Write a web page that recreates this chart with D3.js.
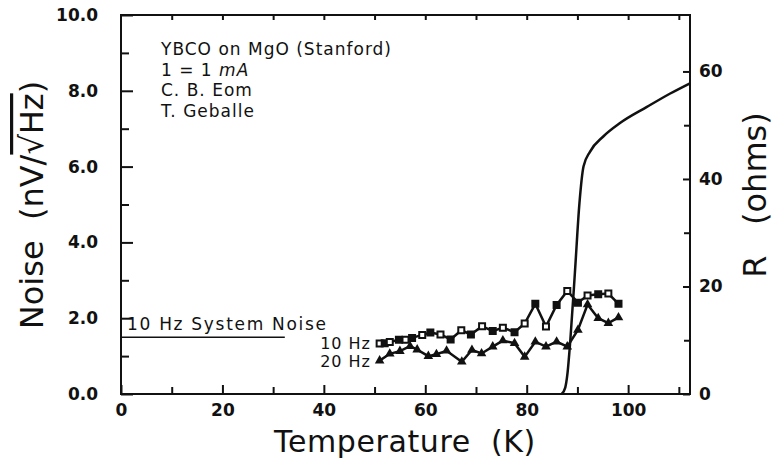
<!DOCTYPE html>
<html>
  <head>
    <meta charset="utf-8">
    <script src="https://cdn.jsdelivr.net/npm/d3@7"></script>
    <style>
      body{
        margin: 0;
        padding: 0;
        background-color: white;
      }
      .tick text{
        font-family: "DejaVu Sans", sans-serif;
        font-weight: bold;
        font-size: 17px;
        fill: #111;
      }
      .tick line{
        stroke: #111;
        stroke-width: 2px;
      }
      .note{
        font-family: "DejaVu Sans", sans-serif;
        font-size: 17px;
        letter-spacing: 1px;
        fill: #111;
      }
      .title{
        font-family: "DejaVu Sans", sans-serif;
        font-size: 32px;
        fill: #111;
        white-space: pre;
      }
    </style>
  </head>
  <body>
    <svg id="chart" width="774" height="464"></svg>
    <script>
      // temperatures (K) and noise (nV/rtHz)
      var temp10 = [51, 52, 53, 54.8, 56.1, 57.4, 59.4, 61, 63, 65, 67.1, 69, 71.2, 73.3, 75.3, 77.6, 79.6, 81.7, 83.8, 85.9, 88, 90.1, 92, 94.1, 96.1, 98.1];
      var noise10 = [1.33, 1.34, 1.37, 1.43, 1.43, 1.48, 1.56, 1.62, 1.57, 1.44, 1.68, 1.57, 1.79, 1.66, 1.75, 1.63, 1.86, 2.38, 1.78, 2.35, 2.72, 2.41, 2.60, 2.63, 2.65, 2.38];
      var temp20 = [51, 53, 55, 57, 58.4, 60.6, 62.2, 64.2, 67.2, 69.2, 71.1, 73.3, 75.3, 77.6, 79.6, 81.7, 83.8, 85.9, 88, 90.1, 92, 94.1, 96.1, 98.1];
      var noise20 = [0.88, 1.06, 1.13, 1.26, 1.17, 1.0, 1.05, 1.14, 0.85, 1.16, 1.07, 1.25, 1.41, 1.34, 0.98, 1.38, 1.25, 1.38, 1.25, 1.69, 2.36, 2.0, 1.87, 2.02];
      // resistance curve (ohms)
      var tempR = [86.9, 87.6, 88.0, 88.6, 89.5, 90.4, 91.2, 92.5, 95.1, 98.4, 103.7, 108.3, 112.2];
      var resist = [0, 1.2, 3.5, 10, 22.5, 35.5, 42.3, 45.1, 47.9, 50.4, 53.4, 55.9, 57.8];
      var sysNoise = 1.5, sysNoiseEnd = 32.3;
      var xTicks = [0, 20, 40, 60, 80, 100];
      var yTicks = [0, 2, 4, 6, 8, 10];
      var rTicks = [0, 20, 40, 60];
      var notes = ["YBCO on MgO (Stanford)", "1 = 1 mA", "C. B. Eom", "T. Geballe"];

      var box = {left: 121, right: 690, top: 15, bottom: 394};
      var svg = d3.select("#chart");

      var x = d3.scaleLinear().domain([0, 112.2]).range([box.left, box.right]);
      var y = d3.scaleLinear().domain([0, 10]).range([box.bottom, box.top]);
      var yR = d3.scaleLinear().domain([0, 70.5]).range([box.bottom, box.top]);

      // minor ticks
      svg.append("g").attr("transform", "translate(" + box.left + ",0)")
        .call(d3.axisLeft(y).tickValues(d3.range(1, 10, 2)).tickSize(-8).tickFormat(""));
      svg.append("g").attr("transform", "translate(0," + box.bottom + ")")
        .call(d3.axisBottom(x).tickValues(d3.range(10, 111, 20)).tickSize(-7).tickFormat(""));
      svg.append("g").attr("transform", "translate(0," + box.top + ")")
        .call(d3.axisTop(x).tickValues(d3.range(10, 111, 10)).tickSize(-5).tickFormat(""));
      svg.append("g").attr("transform", "translate(" + box.right + ",0)")
        .call(d3.axisRight(yR).tickValues([10, 30, 50]).tickSize(-6).tickFormat(""));

      // major ticks + labels
      svg.append("g").attr("transform", "translate(" + box.left + ",0)")
        .call(d3.axisLeft(y).tickValues(yTicks).tickSize(-12).tickPadding(23).tickFormat(d3.format(".1f")));
      svg.append("g").attr("transform", "translate(0," + box.bottom + ")")
        .call(d3.axisBottom(x).tickValues(xTicks).tickSize(-9).tickPadding(10));
      svg.append("g").attr("transform", "translate(" + box.right + ",0)")
        .call(d3.axisRight(yR).tickValues(rTicks).tickSize(-7).tickPadding(9));
      svg.selectAll(".domain").remove();

      svg.append("rect")
        .attr("x", box.left).attr("y", box.top)
        .attr("width", box.right - box.left).attr("height", box.bottom - box.top)
        .attr("fill", "none").attr("stroke", "#111").attr("stroke-width", 2);

      // titles
      svg.append("text").attr("class", "title")
        .attr("transform", "translate(43,205) rotate(-90)")
        .attr("text-anchor", "middle")
        .html('Noise  (nV/<tspan text-decoration="overline">√Hz</tspan>)');
      svg.append("text").attr("class", "title")
        .attr("transform", "translate(766,195) rotate(-90)")
        .attr("text-anchor", "middle")
        .text("R   (ohms)");
      svg.append("text").attr("class", "title")
        .attr("x", 405).attr("y", 452).attr("text-anchor", "middle")
        .style("font-size", "30px").style("letter-spacing", "0.6px")
        .text("Temperature  (K)");

      // notes
      svg.append("g").selectAll("text").data(notes).join("text")
        .attr("class", "note")
        .attr("x", 161).attr("y", function(d, i){ return 55 + i * 20.5; })
        .each(function(d){
          var t = d3.select(this), k = d.indexOf("mA");
          if (k < 0) { t.text(d); return; }
          t.append("tspan").text(d.slice(0, k));
          t.append("tspan").style("font-style", "italic").text("mA");
        });

      // system noise
      svg.append("line")
        .attr("x1", x(0)).attr("x2", x(sysNoiseEnd))
        .attr("y1", y(sysNoise)).attr("y2", y(sysNoise))
        .attr("stroke", "#111").attr("stroke-width", 1.5);
      svg.append("text").attr("class", "note")
        .attr("x", 127).attr("y", 330).style("letter-spacing", "1.7px")
        .text("10 Hz System Noise");

      // R curve
      var line = d3.line().x(function(d){ return x(d[0]); }).y(function(d){ return d[1]; }).curve(d3.curveMonotoneX);
      svg.append("path")
        .attr("d", line(d3.zip(tempR, resist.map(yR))))
        .attr("fill", "none").attr("stroke", "#111").attr("stroke-width", 2.5);

      var pts10 = d3.zip(temp10, noise10), pts20 = d3.zip(temp20, noise20);
      var lin = d3.line().x(function(d){ return x(d[0]); }).y(function(d){ return y(d[1]); });
      svg.append("path").attr("d", lin(pts10)).attr("fill", "none").attr("stroke", "#111").attr("stroke-width", 2.5);
      svg.append("path").attr("d", lin(pts20)).attr("fill", "none").attr("stroke", "#111").attr("stroke-width", 2.5);

      svg.append("g").selectAll("path").data(pts10).join("path")
        .attr("d", d3.symbol(d3.symbolSquare, 36))
        .attr("transform", function(d){ return "translate(" + x(d[0]) + "," + y(d[1]) + ")"; })
        .attr("fill", function(d, i){ return i % 2 ? "#111" : "white"; })
        .attr("stroke", "#111").attr("stroke-width", 2);
      svg.append("g").selectAll("path").data(pts20).join("path")
        .attr("d", d3.symbol(d3.symbolTriangle, 40))
        .attr("transform", function(d){ return "translate(" + x(d[0]) + "," + y(d[1]) + ")"; })
        .attr("fill", "#111");

      svg.append("text").attr("class", "note").attr("x", 371).attr("y", 348.5)
        .attr("text-anchor", "end").style("font-size", "16px").text("10 Hz");
      svg.append("text").attr("class", "note").attr("x", 371).attr("y", 367)
        .attr("text-anchor", "end").style("font-size", "16px").text("20 Hz");
    </script>
  </body>
</html>
